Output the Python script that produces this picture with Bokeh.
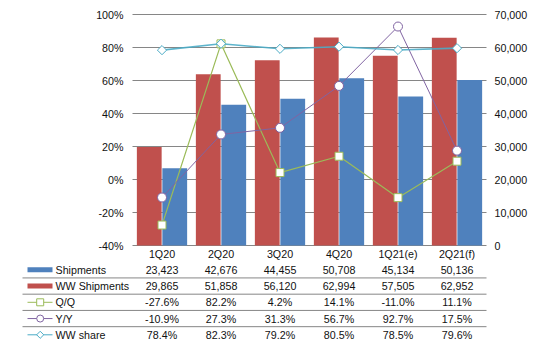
from bokeh.plotting import figure
from bokeh.models import Range1d, ColumnDataSource
from bokeh.embed import file_html
from bokeh.resources import INLINE
from bokeh.core.properties import value
import math

# ---------------- data ----------------
categories = ["1Q20", "2Q20", "3Q20", "4Q20", "1Q21(e)", "2Q21(f)"]
shipments = [23423, 42676, 44455, 50708, 45134, 50136]
ww_shipments = [29865, 51858, 56120, 62994, 57505, 62952]
qoq = [-27.6, 82.2, 4.2, 14.1, -11.0, 11.1]
yoy = [-10.9, 27.3, 31.3, 56.7, 92.7, 17.5]
ww_share = [78.4, 82.3, 79.2, 80.5, 78.5, 79.6]
pct_ticks = [-40, -20, 0, 20, 40, 60, 80, 100]
unit_ticks = [0, 10000, 20000, 30000, 40000, 50000, 60000, 70000]
row_names = ["Shipments", "WW Shipments", "Q/Q", "Y/Y", "WW share"]

# ---------------- styles / layout ----------------
FONT = "Liberation Sans"
FS = "10.7px"
TXT = "#111111"
GRID = "#868686"
BLUE = "#4F81BD"
RED = "#C0504D"
GREEN = "#9BBB59"
PURPLE = "#8064A2"
CYAN = "#4BACC6"

W, H = 539, 350
FRAME_L, FRAME_R = 132, 486          # plot area, px
TOP_PX, BOT_PX = 14, 245             # 100% / -40% gridlines, px
N = len(categories)
CAT_PX = (FRAME_R - FRAME_L) / N
PCT_MAX, PCT_MIN = 100, -40
U_MAX, U_MIN = 70000, 0
ROW0_PX, ROW_PITCH = 269.3, 16.25    # first table row, px


def px(xpix):
    """horizontal layout position (px) -> category units"""
    return (xpix - FRAME_L) / CAT_PX


def vrange(v_top, v_bot, top_px, bot_px):
    per = (v_top - v_bot) / (bot_px - top_px)
    return Range1d(start=v_bot - (H - bot_px) * per, end=v_top + top_px * per)


p = figure(width=W, height=H,
           x_range=Range1d(px(0), px(W)),
           y_range=vrange(PCT_MAX, PCT_MIN, TOP_PX, BOT_PX),
           output_backend="svg", toolbar_location=None,
           x_axis_location=None, y_axis_location=None,
           min_border_left=0, min_border_right=0, min_border_top=0, min_border_bottom=0)
p.extra_y_ranges = {
    "units": vrange(U_MAX, U_MIN, TOP_PX, BOT_PX),
    "rows": Range1d(start=(H - ROW0_PX) / ROW_PITCH, end=-ROW0_PX / ROW_PITCH),
}
p.outline_line_color = None
p.grid.visible = False
p.background_fill_color = "white"
p.border_fill_color = "white"

xc = [i + 0.5 for i in range(N)]

# gridlines
p.segment(x0=[0] * len(pct_ticks), x1=[N] * len(pct_ticks), y0=pct_ticks, y1=pct_ticks,
          line_color=GRID, line_width=1)

# axis tick labels
p.text(x=[px(123)] * len(pct_ticks), y=pct_ticks, text=[f"{t}%" for t in pct_ticks],
       text_align="right", text_baseline="middle", text_font=value(FONT),
       text_font_size=FS, text_color=TXT)
p.text(x=[px(494)] * len(unit_ticks), y=unit_ticks, text=[f"{t:,}" for t in unit_ticks],
       text_align="left", text_baseline="middle", text_font=value(FONT),
       text_font_size=FS, text_color=TXT, y_range_name="units")

src = ColumnDataSource(dict(
    x=xc,
    xl=[x - 0.216 for x in xc],
    xr=[x + 0.216 for x in xc],
    ship=shipments, ww=ww_shipments,
    qoq=qoq, yoy=yoy, share=ww_share,
))

# bars
p.vbar(x="xl", top="ww", bottom=0, width=0.42, source=src,
       fill_color=RED, line_color=None, y_range_name="units")
p.vbar(x="xr", top="ship", bottom=0, width=0.42, source=src,
       fill_color=BLUE, line_color=None, y_range_name="units")

# lines
p.line("x", "qoq", source=src, line_color=GREEN, line_width=1.2)
p.scatter("x", "qoq", source=src, marker="square", size=8,
          fill_color="white", line_color=GREEN, line_width=1)
p.line("x", "yoy", source=src, line_color=PURPLE, line_width=1)
p.scatter("x", "yoy", source=src, marker="circle", size=9,
          fill_color="white", line_color=PURPLE, line_width=1)
p.line("x", "share", source=src, line_color=CYAN, line_width=1.6, line_alpha=0.9)
p.scatter("x", "share", source=src, marker="square", angle=math.pi / 4, size=6.5,
          fill_color="white", line_color=CYAN, line_width=1)

# ---------------- data table ----------------
p.text(x=xc, y=[-1] * N, text=categories, text_align="center", text_baseline="middle",
       text_font=value(FONT), text_font_size=FS, text_color=TXT, y_range_name="rows")

rows_text = [
    [f"{v:,}" for v in shipments],
    [f"{v:,}" for v in ww_shipments],
    [f"{v:.1f}%" for v in qoq],
    [f"{v:.1f}%" for v in yoy],
    [f"{v:.1f}%" for v in ww_share],
]
for r, texts in enumerate(rows_text):
    p.text(x=xc, y=[r] * N, text=texts, text_align="center", text_baseline="middle",
           text_font=value(FONT), text_font_size=FS, text_color=TXT, y_range_name="rows")

seps = [r + 0.5 for r in range(len(row_names) - 1)]
p.segment(x0=[px(22)] * len(seps), x1=[N] * len(seps), y0=seps, y1=seps,
          line_color=GRID, line_width=1, y_range_name="rows")

# legend keys of the table
p.rect(x=[px(39.5)], y=[0], width=25 / CAT_PX, height=5, height_units="screen",
       fill_color=BLUE, line_color=None, y_range_name="rows")
p.rect(x=[px(39.5)], y=[1], width=25 / CAT_PX, height=5, height_units="screen",
       fill_color=RED, line_color=None, y_range_name="rows")
for r, col, mk, sz, ang in [(2, GREEN, "square", 7, 0), (3, PURPLE, "circle", 7, 0),
                            (4, CYAN, "square", 5, math.pi / 4)]:
    p.segment(x0=[px(27)], x1=[px(52)], y0=[r], y1=[r], line_color=col, line_width=1,
              y_range_name="rows")
    p.scatter(x=[px(39.7)], y=[r], marker=mk, size=sz, angle=ang,
              fill_color="white", line_color=col, line_width=1, y_range_name="rows")

p.text(x=[px(55)] * len(row_names), y=list(range(len(row_names))), text=row_names,
       text_align="left", text_baseline="middle", text_font=value(FONT),
       text_font_size=FS, text_color=TXT, y_range_name="rows")

open("out.html", "w").write(file_html(p, INLINE))
